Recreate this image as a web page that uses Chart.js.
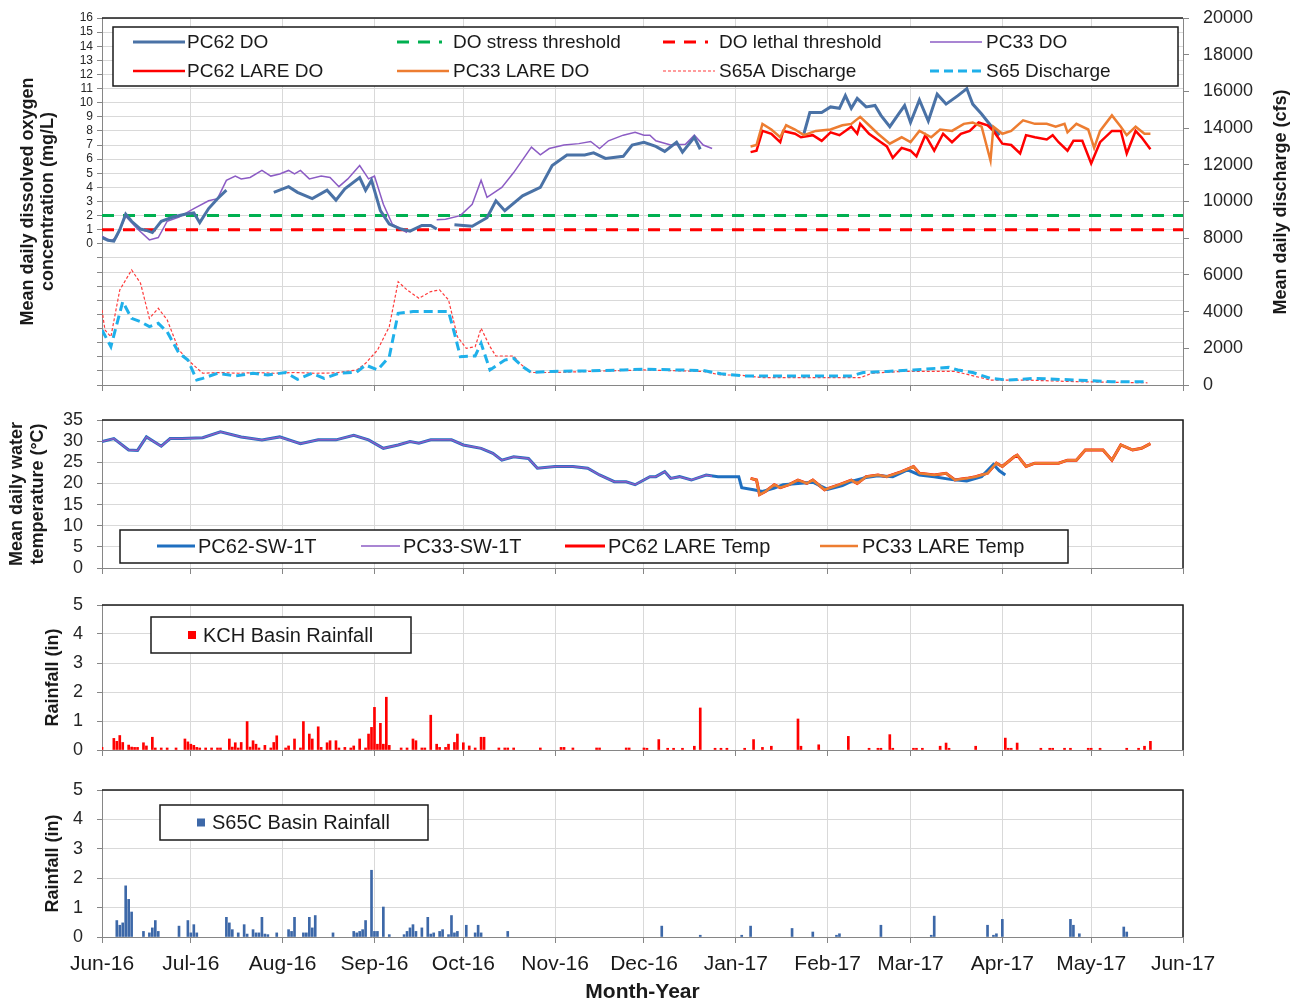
<!DOCTYPE html>
<html>
<head>
<meta charset="utf-8">
<script src="https://cdn.jsdelivr.net/npm/chart.js@4.4.1/dist/chart.umd.min.js"></script>
<style>
  body { margin: 0; background: #fff; }
  canvas { position: absolute; left: 0; }
</style>
</head>
<body>
<canvas id="doChart" width="1299" height="400" style="top:0px"></canvas>
<canvas id="tempChart" width="1299" height="185" style="top:400px"></canvas>
<canvas id="kchChart" width="1299" height="180" style="top:585px"></canvas>
<canvas id="s65cChart" width="1299" height="240" style="top:765px"></canvas>
<script>
// x values are days since 1 Jun 2016
const monthDays = [0, 30, 61, 92, 122, 153, 183, 214, 245, 273, 304, 334, 365];
const monthLabels = ['Jun-16', 'Jul-16', 'Aug-16', 'Sep-16', 'Oct-16', 'Nov-16', 'Dec-16',
                     'Jan-17', 'Feb-17', 'Mar-17', 'Apr-17', 'May-17', 'Jun-17'];

// ---- dissolved oxygen (mg/L), null = gap in record
const pc62DoDays = [0, 2, 4, 6, 8, 10, 13, 15, 17, 20, 24, 28, 31, 33, 36, 39, 42, 50,
  58, 63, 66, 71, 76, 79, 82, 87, 89, 91, 94, 97, 101, 104, 108, 111, 113, 116,
  119, 125, 130, 133, 136, 142, 148, 152, 157, 163, 166, 170, 176, 179, 183, 187, 190, 194, 196, 200, 202, 220,
  237, 239, 243, 246, 249, 251, 253, 255, 258, 261, 263, 266, 269, 271, 273, 276, 279, 282, 285, 289, 292, 294, 297, 300, 303];
const pc62DoVals = [0.45, 0.25, 0.2, 1.0, 2.1, 1.6, 1.05, 0.95, 0.8, 1.6, 1.9, 2.1, 2.2, 1.5, 2.5, 3.2, 3.8, null,
  3.65, 4.05, 3.65, 3.2, 3.8, 3.1, 3.9, 4.7, 3.8, 4.5, 2.35, 1.4, 1.05, 0.9, 1.3, 1.3, 1.05, null,
  1.35, 1.25, 1.85, 3.05, 2.35, 3.4, 4.0, 5.55, 6.3, 6.3, 6.45, 6.05, 6.2, 7.0, 7.2, 6.9, 6.55, 7.2, 6.5, 7.55, 6.7, null,
  7.8, 9.3, 9.3, 9.7, 9.6, 10.5, 9.6, 10.3, 9.7, 9.8, 9.1, 8.3, 9.2, 9.8, 8.6, 10.2, 8.7, 10.6, 9.9, 10.5, 11.0, 9.9, 9.2, 8.4, 7.7];

const pc33DoDays = [0, 3, 5, 8, 12, 16, 19, 22, 26, 31, 36, 39, 42, 45, 47, 50, 54, 57, 60, 63, 65, 67, 70, 74, 77, 80,
  83, 87, 90, 92, 95, 98, 103, 108,
  113, 116, 121, 125, 128, 130, 135, 139, 145, 148, 151, 156, 161, 165, 168, 171, 176, 180, 183, 185, 187, 192, 197, 200, 203, 206];
const pc33DoVals = [0.55, 0.2, 0.5, 1.95, 1.05, 0.28, 0.45, 1.6, 1.9, 2.5, 3.05, 3.2, 4.5, 4.8, 4.6, 4.7, 5.2, 4.8, 4.95, 5.2, 4.95, 5.2, 4.6, 4.8, 4.7, 4.05,
  4.6, 5.55, 4.6, 4.8, 2.8, 1.4, 0.8, null,
  1.7, 1.75, 2.0, 2.8, 4.5, 3.3, 4.0, 5.05, 6.85, 6.3, 6.75, 7.0, 7.1, 7.25, 6.75, 7.3, 7.7, 7.9, 7.7, 7.7, 7.3, 7.0, 7.05, 7.7, 7.0, 6.75];

const pc62LareDoDays = [219, 221, 223, 226, 229, 230, 234, 236, 240, 243, 246, 249, 253, 255, 256, 259, 263, 265, 267, 270,
  273, 275, 278, 281, 284, 287, 290, 293, 296, 299, 301, 304, 307, 310, 312, 315, 319, 321, 323, 326, 328, 331, 334, 337,
  341, 344, 346, 349, 351, 354];
const pc62LareDoVals = [6.5, 6.6, 8.0, 7.8, 7.2, 8.0, 7.8, 7.55, 7.7, 7.3, 7.9, 7.7, 8.3, 7.8, 8.5, 7.8, 7.2, 6.9, 6.1, 6.8,
  6.6, 6.2, 7.7, 6.6, 7.8, 7.2, 7.8, 8.0, 8.6, 8.4, 8.0, 7.1, 7.0, 6.4, 7.7, 7.55, 7.4, 7.7, 7.2, 6.6, 7.3, 7.3, 5.7, 7.2,
  8.0, 8.0, 6.4, 8.0, 7.55, 6.7];

const pc33LareDoDays = [219, 221, 223, 226, 229, 231, 234, 237, 241, 246, 250, 253, 256, 259, 262, 266, 270, 273, 276, 280,
  283, 287, 291, 294, 297, 300, 301, 304, 307, 311, 315, 319, 322, 325, 326, 329, 333, 335, 337, 341, 344, 346, 349, 352, 354];
const pc33LareDoVals = [6.9, 7.0, 8.5, 8.1, 7.55, 8.4, 8.1, 7.7, 8.0, 8.1, 8.4, 8.5, 9.0, 8.4, 7.8, 7.1, 7.55, 7.2, 8.0, 7.55,
  8.1, 8.0, 8.5, 8.6, 8.3, 5.9, 8.3, 7.8, 8.0, 8.75, 8.5, 8.5, 8.3, 8.5, 7.9, 8.5, 8.1, 6.8, 8.0, 9.1, 8.3, 7.7, 8.3, 7.8, 7.8];

const thresholdDays = [0, 365];
const stressDo = [2, 2];
const lethalDo = [1, 1];

// ---- discharge (cfs)
const s65aDays = [0, 1, 3, 6, 10, 13, 16, 19, 22, 26, 29, 34, 40, 46, 52, 58, 65, 72, 79, 86, 89, 93, 97, 100, 103, 107,
  111, 114, 117, 120, 123, 126, 128, 131, 133, 139, 141, 145, 152, 164, 176, 183, 203, 209, 215, 223, 256, 260, 270, 288,
  293, 300, 312, 329, 353];
const s65aFlow = [4090, 3000, 2630, 5180, 6270, 5550, 3630, 4180, 3550, 1900, 1360, 640, 680, 640, 680, 640, 680, 640, 660, 820,
  1180, 1900, 3180, 5630, 5180, 4730, 5090, 5180, 4640, 2630, 2000, 2090, 3090, 2090, 1580, 1580, 1180, 680, 680, 740, 790,
  820, 740, 545, 545, 400, 400, 640, 740, 740, 545, 270, 270, 180, 120];

const s65Days = [0, 3, 7, 10, 13, 16, 19, 22, 26, 29, 32, 34, 39, 45, 51, 56, 62, 66, 71, 75, 80, 86, 89, 93, 97, 100, 105,
  117, 119, 121, 126, 128, 131, 136, 139, 142, 145, 152, 164, 176, 183, 203, 209, 217, 253, 257, 265, 274, 286, 289, 294,
  300, 306, 315, 329, 341, 353];
const s65Flow = [3000, 2090, 4540, 3630, 3450, 3180, 3360, 2900, 1730, 1360, 270, 360, 640, 490, 640, 545, 680, 310, 640, 360,
  640, 700, 1090, 820, 1540, 3910, 4000, 4000, 2820, 1540, 1580, 2270, 820, 1360, 1450, 1000, 680, 740, 770, 820, 860, 790,
  610, 490, 490, 680, 740, 820, 960, 820, 680, 360, 270, 360, 270, 180, 180];

// ---- water temperature (deg C)
const pc62TempDays = [0, 4, 9, 12, 15, 20, 23, 27, 34, 40, 47, 54, 60, 67, 73, 79, 85, 90, 95, 100, 104, 107, 111, 118, 122,
  128, 132, 135, 139, 144, 147, 153, 159, 164, 168, 173, 177, 180, 185, 187, 190, 192, 195, 199, 204, 208, 215, 216, 220,
  223, 227, 230, 235, 240, 245, 250, 253, 258, 262, 267, 272, 276, 281, 287, 292, 297, 301, 303, 305];
const pc62TempVals = [29.9, 30.6, 27.9, 27.8, 31.0, 28.8, 30.6, 30.6, 30.8, 32.2, 31.0, 30.3, 31.0, 29.4, 30.3, 30.3, 31.4,
  30.3, 28.3, 29.1, 29.9, 29.5, 30.3, 30.3, 29.1, 28.3, 27.1, 25.5, 26.3, 25.9, 23.6, 24.0, 24.0, 23.6, 22.0, 20.4, 20.4,
  19.7, 21.6, 21.6, 22.8, 21.2, 21.6, 20.8, 22.0, 21.6, 21.6, 19.0, 18.5, 18.1, 18.9, 19.7, 20.0, 20.3, 18.6, 19.5, 20.5,
  21.4, 21.8, 21.6, 23.2, 22.0, 21.6, 20.9, 20.6, 21.6, 24.5, 23.0, 22.0];

const pc33TempDays = [0, 4, 9, 12, 15, 20, 23, 27, 34, 40, 47, 54, 60, 67, 73, 79, 85, 90, 95, 100, 104, 107, 111, 118, 122,
  128, 132, 135, 139, 144, 147, 153, 159, 164, 168, 173, 177, 180, 185, 187, 190, 192, 195, 199, 204, 206];
const pc33TempVals = [29.9, 30.6, 27.9, 27.8, 31.0, 28.8, 30.6, 30.6, 30.8, 32.2, 31.0, 30.3, 31.0, 29.4, 30.3, 30.3, 31.4,
  30.3, 28.3, 29.1, 29.9, 29.5, 30.3, 30.3, 29.1, 28.3, 27.1, 25.5, 26.3, 25.9, 23.6, 24.0, 24.0, 23.6, 22.0, 20.4, 20.4,
  19.7, 21.6, 21.6, 22.8, 21.2, 21.6, 20.8, 22.0, 21.7];

const lareTempDays = [219, 221, 222, 224, 227, 229, 232, 235, 238, 240, 244, 249, 253, 255, 258, 262, 265, 270, 274, 276,
  281, 285, 288, 292, 295, 299, 302, 304, 308, 309, 312, 315, 320, 323, 326, 329, 332, 338, 341, 344, 348, 351, 354];
const pc33LareTempVals = [21.2, 20.8, 17.3, 18.1, 19.7, 19.0, 19.7, 20.8, 20.0, 20.8, 18.5, 19.7, 20.8, 20.0, 21.6, 22.0,
  21.6, 22.8, 24.0, 22.4, 22.0, 22.4, 20.8, 21.2, 21.6, 22.4, 24.8, 24.0, 26.3, 26.7, 24.0, 24.8, 24.8, 24.8, 25.5, 25.5,
  27.9, 27.9, 25.5, 29.1, 27.9, 28.3, 29.4];
const pc62LareTempVals = [21.2, 20.8, 17.4, 18.1, 19.7, 19.0, 19.7, 20.8, 20.0, 20.8, 18.5, 19.7, 20.8, 20.0, 21.6, 22.0,
  21.6, 22.8, 24.0, 22.4, 22.0, 22.4, 20.8, 21.2, 21.6, 22.4, 24.8, 24.0, 26.3, 26.7, 24.0, 24.8, 24.8, 24.8, 25.5, 25.5,
  27.9, 27.9, 25.5, 29.1, 27.9, 28.3, 29.4];

// ---- daily rainfall (in), only days with rain
const kchDays = [0, 4, 5, 6, 7, 9, 10, 11, 12, 14, 15, 17, 18, 20, 22, 25, 28, 29, 30, 31, 32, 33, 35, 37, 39, 40, 43, 44,
  45, 46, 47, 49, 50, 51, 52, 53, 55, 57, 58, 59, 62, 63, 65, 67, 68, 70, 71, 73, 74, 76, 77, 79, 80, 82, 84, 85, 87, 89,
  90, 91, 92, 93, 94, 95, 96, 97, 101, 103, 105, 106, 108, 109, 111, 113, 114, 116, 117, 119, 120, 122, 124, 126, 128,
  129, 134, 136, 137, 139, 148, 155, 156, 159, 167, 168, 177, 178, 183, 184, 188, 191, 193, 196, 200, 202, 207, 209, 211,
  217, 220, 223, 226, 235, 236, 242, 252, 259, 262, 263, 266, 267, 274, 275, 277, 283, 285, 286, 295, 305, 306, 307, 309,
  317, 320, 321, 325, 327, 333, 334, 337, 346, 350, 352, 354];
const kchRain = [0.09, 0.4, 0.3, 0.5, 0.26, 0.17, 0.1, 0.09, 0.09, 0.25, 0.14, 0.44, 0.07, 0.07, 0.07, 0.07, 0.38, 0.28, 0.2,
  0.16, 0.09, 0.07, 0.07, 0.07, 0.07, 0.07, 0.38, 0.1, 0.25, 0.07, 0.26, 0.98, 0.1, 0.32, 0.2, 0.07, 0.16, 0.07, 0.26, 0.49,
  0.07, 0.14, 0.38, 0.07, 0.98, 0.55, 0.38, 0.8, 0.09, 0.25, 0.32, 0.32, 0.07, 0.09, 0.07, 0.14, 0.38, 0.07, 0.55, 0.78,
  1.47, 0.2, 0.92, 0.2, 1.82, 0.16, 0.07, 0.07, 0.38, 0.32, 0.07, 0.07, 1.2, 0.2, 0.09, 0.09, 0.2, 0.26, 0.55, 0.25, 0.14,
  0.07, 0.44, 0.44, 0.07, 0.07, 0.07, 0.07, 0.07, 0.09, 0.09, 0.07, 0.07, 0.07, 0.07, 0.07, 0.07, 0.06, 0.36, 0.06, 0.06,
  0.06, 0.13, 1.45, 0.06, 0.06, 0.06, 0.06, 0.36, 0.09, 0.13, 1.07, 0.13, 0.18, 0.47, 0.06, 0.06, 0.06, 0.53, 0.06, 0.06,
  0.06, 0.06, 0.13, 0.24, 0.06, 0.13, 0.41, 0.06, 0.06, 0.24, 0.06, 0.06, 0.06, 0.06, 0.06, 0.06, 0.06, 0.06, 0.06, 0.06,
  0.13, 0.3];

const s65cDays = [5, 6, 7, 8, 9, 10, 14, 16, 17, 18, 19, 26, 29, 30, 31, 32, 42, 43, 44, 46, 48, 49, 51, 52, 53, 54, 55, 56,
  59, 63, 64, 65, 68, 69, 70, 71, 72, 78, 85, 86, 87, 88, 89, 91, 92, 93, 95, 97, 102, 103, 104, 105, 106, 108, 110, 111,
  112, 114, 115, 117, 118, 119, 120, 123, 126, 127, 128, 137, 189, 202, 216, 219, 233, 240, 248, 249, 263, 280, 281, 299,
  301, 302, 304, 327, 328, 330, 345, 346];
const s65cRain = [0.56, 0.4, 0.48, 1.74, 1.28, 0.85, 0.19, 0.14, 0.31, 0.56, 0.19, 0.37, 0.56, 0.14, 0.42, 0.14, 0.67, 0.48,
  0.25, 0.14, 0.42, 0.1, 0.25, 0.14, 0.14, 0.67, 0.1, 0.08, 0.14, 0.25, 0.19, 0.67, 0.14, 0.14, 0.67, 0.31, 0.73, 0.14,
  0.19, 0.14, 0.19, 0.25, 0.56, 2.27, 0.19, 0.19, 1.02, 0.08, 0.08, 0.19, 0.31, 0.42, 0.19, 0.31, 0.67, 0.1, 0.14, 0.19,
  0.25, 0.08, 0.73, 0.14, 0.19, 0.4, 0.14, 0.4, 0.14, 0.19, 0.37, 0.06, 0.06, 0.37, 0.29, 0.17, 0.06, 0.11, 0.4, 0.06,
  0.71, 0.4, 0.06, 0.11, 0.6, 0.6, 0.4, 0.11, 0.34, 0.17];

// ---------------------------------------------------------------
Chart.defaults.font.family = "'Liberation Sans', Arial, sans-serif";
Chart.defaults.color = '#262626';
Chart.defaults.animation = false;

const pts = (days, vals) => days.map((d, i) => ({ x: d, y: vals[i] }));
const GRID = '#d9d9d9';
const AXIS = '#868686';

function line(label, days, vals, color, width, dash, axis) {
  return {
    label: label, data: pts(days, vals), borderColor: color, backgroundColor: color,
    borderWidth: width, borderDash: dash || [], pointRadius: 0, tension: 0,
    spanGaps: false, fill: false, yAxisID: axis || 'y'
  };
}

// fixed axis sizes so the four plot areas line up
const fixW = w => s => { s.width = w; s.paddingTop = 0; s.paddingBottom = 0; };
const fixH = h => s => { s.height = h; s.paddingLeft = 0; s.paddingRight = 0; };

function monthAxis(h, labels) {
  return {
    type: 'linear', min: 0, max: 365, offset: false,
    afterBuildTicks: s => { s.ticks = monthDays.map(v => ({ value: v })); },
    afterFit: fixH(h),
    grid: { color: GRID, tickLength: 6, tickColor: AXIS, offset: false },
    border: { color: AXIS },
    ticks: {
      display: labels, autoSkip: false, maxRotation: 0, padding: 9,
      font: { size: 21 }, color: '#1a1a1a',
      callback: v => monthLabels[monthDays.indexOf(v)]
    },
    title: {
      display: labels, text: 'Month-Year', color: '#1a1a1a',
      font: { size: 21, weight: 'bold' }, padding: { top: 0, bottom: 0 }
    }
  };
}

function leftAxis(min, max, step, fontSize, titleText, titlePad, labelPad, lh) {
  return {
    position: 'left', min: min, max: max,
    afterFit: fixW(102),
    grid: { color: GRID, tickLength: 5, tickColor: AXIS },
    border: { color: AXIS },
    ticks: {
      stepSize: step, autoSkip: false, padding: labelPad, color: '#262626',
      font: { size: fontSize }, callback: v => (v < 0 ? '' : v)
    },
    title: {
      display: true, text: titleText, color: '#1a1a1a',
      font: { size: 18, weight: 'bold', lineHeight: lh || 1.2 },
      padding: { top: titlePad, bottom: 0 }
    }
  };
}

// frame, boxed legend and extra text drawn over the plot
const decor = {
  id: 'decor',
  afterDatasetsDraw(chart, args, o) {
    const ctx = chart.ctx, a = chart.chartArea;
    ctx.save();
    ctx.strokeStyle = '#1a1a1a';
    ctx.lineWidth = 1.5;
    ctx.beginPath();
    ctx.moveTo(a.left, a.top);
    ctx.lineTo(a.right, a.top);
    if (o.frameRight) ctx.lineTo(a.right, a.bottom);
    ctx.stroke();

    const L = o.legend;
    if (L) {
      ctx.fillStyle = '#fff';
      ctx.fillRect(L.x, L.y, L.w, L.h);
      ctx.strokeStyle = '#1a1a1a';
      ctx.lineWidth = 1.5;
      ctx.strokeRect(L.x, L.y, L.w, L.h);
      ctx.font = L.font;
      ctx.textBaseline = 'middle';
      ctx.textAlign = 'left';
      L.items.forEach(it => {
        const ds = chart.data.datasets.find(d => d.label === it.label);
        if (it.square) {
          ctx.fillStyle = ds.backgroundColor;
          ctx.fillRect(it.x, it.y - 4, 8, 8);
        } else {
          ctx.strokeStyle = ds.borderColor;
          ctx.lineWidth = ds.borderWidth;
          ctx.setLineDash(ds.borderDash);
          ctx.beginPath();
          ctx.moveTo(it.x, it.y);
          ctx.lineTo(it.x + it.w, it.y);
          ctx.stroke();
          ctx.setLineDash([]);
        }
        ctx.fillStyle = '#1a1a1a';
        ctx.fillText(it.label, it.tx, it.y + 1);
      });
    }
    (o.texts || []).forEach(t => {
      ctx.save();
      ctx.translate(t.x, t.y);
      ctx.rotate(-Math.PI / 2);
      ctx.font = t.font;
      ctx.fillStyle = '#1a1a1a';
      ctx.textAlign = 'center';
      ctx.textBaseline = 'middle';
      ctx.fillText(t.text, 0, 0);
      ctx.restore();
    });
    ctx.restore();
  }
};

const LEG_FONT = "19px 'Liberation Sans', Arial, sans-serif";

// ---- panel 1: dissolved oxygen + discharge
new Chart(document.getElementById('doChart'), {
  type: 'line',
  data: {
    datasets: [
      line('PC33 LARE DO', pc33LareDoDays, pc33LareDoVals, '#ed7d31', 2.5),
      line('PC62 LARE DO', pc62LareDoDays, pc62LareDoVals, '#ff0000', 2.5),
      line('PC62 DO', pc62DoDays, pc62DoVals, '#4a72a6', 3),
      line('PC33 DO', pc33DoDays, pc33DoVals, '#8c5cc4', 1.5),
      line('DO stress threshold', thresholdDays, stressDo, '#00b050', 3, [12, 9]),
      line('DO lethal threshold', thresholdDays, lethalDo, '#ff0000', 3, [12, 9]),
      line('S65 Discharge', s65Days, s65Flow, '#1fb0ea', 3, [9, 5], 'yR'),
      line('S65A Discharge', s65aDays, s65aFlow, '#ff3b3b', 1.2, [3, 2], 'yR')
    ]
  },
  options: {
    responsive: false,
    devicePixelRatio: 1,
    layout: { padding: { top: 18, left: 0, right: 0, bottom: 0 } },
    plugins: {
      legend: { display: false },
      tooltip: { enabled: false },
      decor: {
        frameRight: false,
        legend: {
          x: 113, y: 27, w: 1065, h: 59, font: LEG_FONT,
          items: [
            { label: 'PC62 DO', x: 133, w: 52, tx: 187, y: 42 },
            { label: 'DO stress threshold', x: 397, w: 45, tx: 453, y: 42 },
            { label: 'DO lethal threshold', x: 663, w: 45, tx: 719, y: 42 },
            { label: 'PC33 DO', x: 930, w: 52, tx: 986, y: 42 },
            { label: 'PC62 LARE DO', x: 133, w: 52, tx: 187, y: 71 },
            { label: 'PC33 LARE DO', x: 397, w: 52, tx: 453, y: 71 },
            { label: 'S65A Discharge', x: 663, w: 52, tx: 719, y: 71 },
            { label: 'S65 Discharge', x: 930, w: 52, tx: 986, y: 71 }
          ]
        },
        texts: [{ text: 'Mean daily discharge (cfs)', x: 1281, y: 202,
                  font: "bold 18px 'Liberation Sans', Arial, sans-serif" }]
      }
    },
    scales: {
      x: monthAxis(15, false),
      y: leftAxis(-10, 16, 1, 12, ['Mean daily dissolved oxygen', 'concentration (mg/L)'], 18, 4, 1.1),
      yR: {
        position: 'right', min: 0, max: 20000,
        afterFit: fixW(116),
        grid: { drawOnChartArea: false, tickLength: 6, tickColor: AXIS },
        border: { color: AXIS },
        ticks: { stepSize: 2000, autoSkip: false, padding: 14, font: { size: 18 }, color: '#262626',
                 callback: v => String(v) }
      }
    }
  },
  plugins: [decor]
});

// ---- panel 2: water temperature
new Chart(document.getElementById('tempChart'), {
  type: 'line',
  data: {
    datasets: [
      line('PC33 LARE Temp', lareTempDays, pc33LareTempVals, '#ed7d31', 2.5),
      line('PC33-SW-1T', pc33TempDays, pc33TempVals, '#8c5cc4', 1.5),
      line('PC62-SW-1T', pc62TempDays, pc62TempVals, '#1f6fc0', 3),
      line('PC62 LARE Temp', lareTempDays, pc62LareTempVals, '#ff0000', 3)
    ]
  },
  options: {
    responsive: false,
    devicePixelRatio: 1,
    layout: { padding: { top: 20, left: 0, right: 116, bottom: 0 } },
    plugins: {
      legend: { display: false },
      tooltip: { enabled: false },
      decor: {
        frameRight: true,
        legend: {
          x: 120, y: 130, w: 948, h: 33, font: "20px 'Liberation Sans', Arial, sans-serif",
          items: [
            { label: 'PC62-SW-1T', x: 157, w: 38, tx: 198, y: 146 },
            { label: 'PC33-SW-1T', x: 361, w: 39, tx: 403, y: 146 },
            { label: 'PC62 LARE Temp', x: 565, w: 40, tx: 608, y: 146 },
            { label: 'PC33 LARE Temp', x: 820, w: 38, tx: 862, y: 146 }
          ]
        }
      }
    },
    scales: {
      x: monthAxis(17, false),
      y: leftAxis(0, 35, 5, 18, ['Mean daily water', 'temperature (°C)'], 7, 14, 1.15)
    }
  },
  plugins: [decor]
});

// ---- panels 3 and 4: rainfall
function rainChart(id, label, days, vals, color, canvasTop, legendBox, squareX, textX) {
  new Chart(document.getElementById(id), {
    type: 'bar',
    data: {
      datasets: [{
        label: label, data: pts(days, vals), backgroundColor: color,
        borderWidth: 0, barThickness: 2
      }]
    },
    options: {
      responsive: false,
      devicePixelRatio: 1,
      layout: { padding: { top: canvasTop, left: 0, right: 116, bottom: 0 } },
      plugins: {
        legend: { display: false },
        tooltip: { enabled: false },
        decor: {
          frameRight: true,
          legend: {
            x: legendBox[0], y: legendBox[1], w: legendBox[2], h: legendBox[3],
            font: "20px 'Liberation Sans', Arial, sans-serif",
            items: [{ label: label, square: true, x: squareX, tx: textX, y: legendBox[1] + legendBox[3] / 2 }]
          }
        }
      },
      scales: {
        x: monthAxis(id === 's65cChart' ? 68 : 15, id === 's65cChart'),
        y: leftAxis(0, 5, 1, 18, 'Rainfall (in)', 42, 14)
      }
    },
    plugins: [decor]
  });
}

rainChart('kchChart', 'KCH Basin Rainfall', kchDays, kchRain, '#ff0000', 20, [151, 32, 260, 36], 188, 203);
rainChart('s65cChart', 'S65C Basin Rainfall', s65cDays, s65cRain, '#3d68a8', 25, [160, 40, 268, 35], 197, 212);
</script>
</body>
</html>
